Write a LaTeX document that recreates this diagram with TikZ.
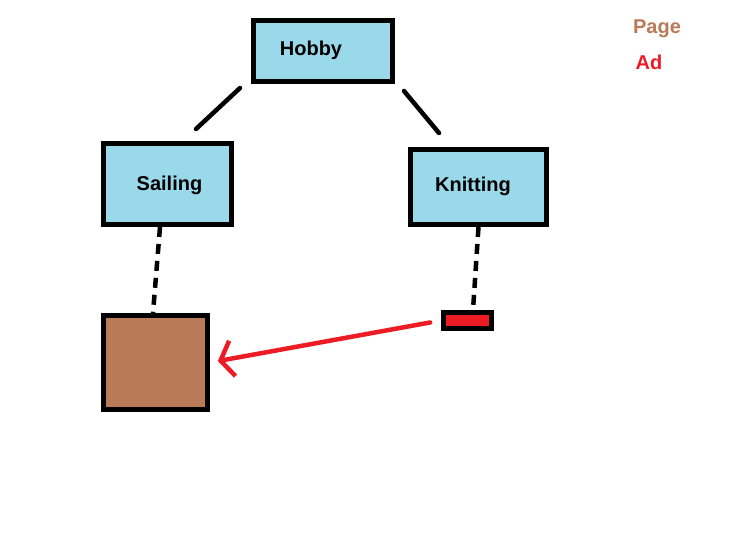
\documentclass[tikz,border=0pt]{standalone}
\usepackage{fontspec}
\setmainfont{Liberation Sans}
\usepackage{xcolor}
\usetikzlibrary{arrows.meta,positioning}
\definecolor{hobbyblue}{HTML}{99D9EA}
\definecolor{pagebrown}{HTML}{B97A57}
\definecolor{adred}{HTML}{ED1C24}

\begin{document}
\begin{tikzpicture}[x=1pt,y=-1pt,
  topic/.style={rectangle,draw,line width=5pt,fill=hobbyblue,inner sep=0pt,
                font=\fontsize{20}{24}\selectfont\bfseries},
  pagebox/.style={rectangle,draw,line width=5pt,fill=pagebrown,inner sep=0pt},
  adbox/.style={rectangle,draw,line width=5pt,fill=adred,inner sep=0pt},
  tree/.style={line width=4.5pt,line cap=round},
  link/.style={line width=4.5pt,dash pattern=on 10pt off 7pt},
  arr/.style={-{Straight Barb[length=12pt,width=36pt]},line width=4.5pt,
              line cap=round,adred}
]
\useasboundingbox (0,0) rectangle (742,539);

\node[topic,minimum width=139pt,minimum height=61pt,
      label={[xshift=-12pt,yshift=1pt,font=\fontsize{20}{24}\selectfont\bfseries]center:Hobby}]
      (hobby) at (323,51) {};
\node[topic,minimum width=128pt,minimum height=81pt,
      label={[xshift=2pt,yshift=-1pt,font=\fontsize{20}{24}\selectfont\bfseries]center:Sailing}]
      (sailing) at (167.5,184) {};
\node[topic,minimum width=136pt,minimum height=75pt,
      label={[xshift=-5.5pt,yshift=1pt,font=\fontsize{20}{24}\selectfont\bfseries]center:Knitting}]
      (knitting) at (478.5,187) {};
\node[pagebox,minimum width=104pt,minimum height=94pt] (page) at (155.5,362.5) {};
\node[adbox,minimum width=48pt,minimum height=16pt] (ad) at (467.5,320.5) {};

% legend
\node[font=\fontsize{20}{24}\selectfont\bfseries,text=pagebrown] (pagekey) at (657,29) {Page};
\node[font=\fontsize{20}{24}\selectfont\bfseries,text=adred] (adkey) at (649,62) {Ad};

\draw[tree] ([xshift=-11pt,yshift=-4pt]hobby.south west) -- ([xshift=28.5pt,yshift=12pt]sailing.north);
\draw[tree] ([xshift=9pt,yshift=-7pt]hobby.south east) -- ([xshift=-39.5pt,yshift=14pt]knitting.north);

\draw[link] ([xshift=-7.5pt]sailing.south) -- ([xshift=-2.5pt]page.north);
\draw[link] (knitting.south) -- ([xshift=5.5pt]ad.north);

\draw[arr,shorten <=11pt,shorten >=8pt] (ad.west) -- (page.east);
\end{tikzpicture}
\end{document}
